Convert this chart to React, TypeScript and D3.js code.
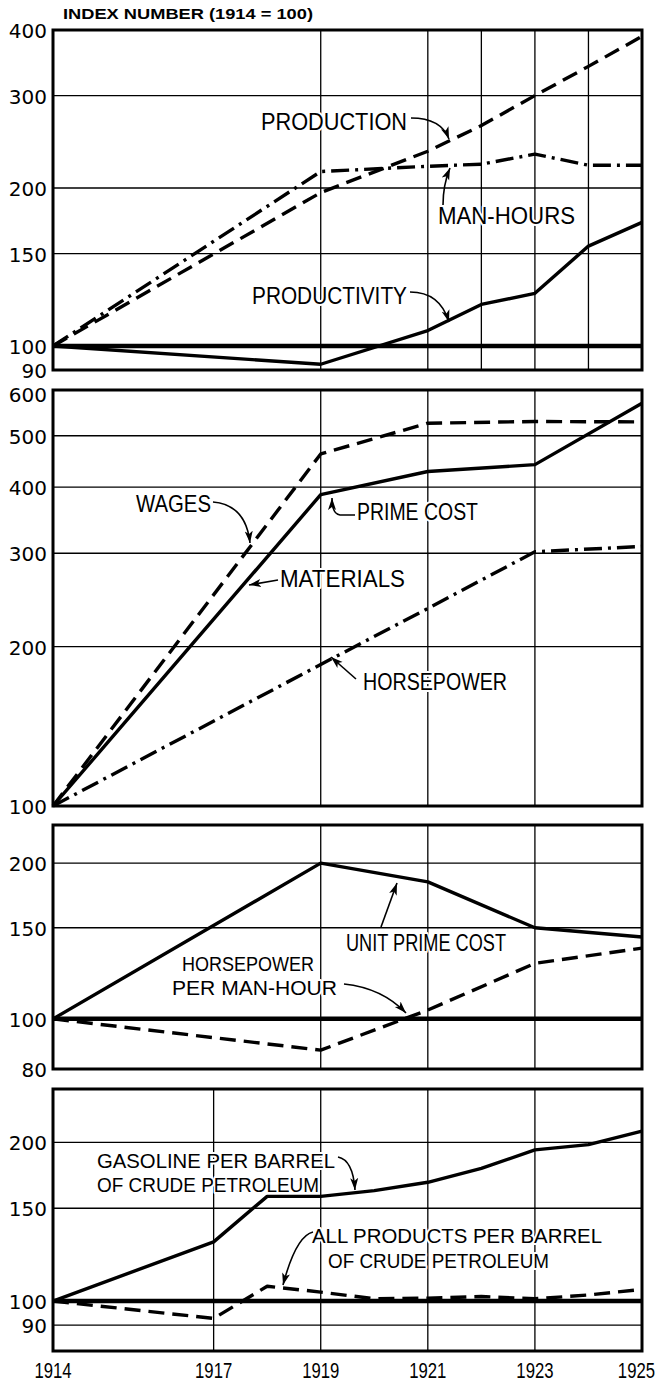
import React from 'react';
import * as d3 from 'd3';

const W = 660;
const H = 1385;
const LEFT = 53;
const RIGHT = 642;

// ---------- data ----------
const prodYears = [1914, 1919, 1921, 1922, 1923, 1924, 1925];
const production = [100, 196, 235, 263, 300, 341, 389];
const manHours = [100, 215, 220, 222, 232, 221, 221];
const productivity = [100, 92.3, 107, 120, 126, 155, 172];

const censusYears = [1914, 1919, 1921, 1923, 1925];
const wages = [100, 462, 528, 532, 531];
const primeCost = [100, 387, 428, 441, 576];
const horsepower = [100, 185, 236, 302, 309];

const unitPrimeCost = [100, 200, 184, 150, 144];
const hpPerManHour = [100, 87, 104, 128, 137];

const refYears = [1914, 1917, 1918, 1919, 1920, 1921, 1922, 1923, 1924, 1925];
const gasoline = [100, 129.5, 158, 158, 162, 168, 178.5, 193.5, 198, 210];
const allProducts = [100, 92.7, 106.7, 104, 101, 101.3, 102, 101, 102.7, 105.2];

const xTickYears = [1914, 1917, 1919, 1921, 1923, 1925];
const p1Ticks = [400, 300, 200, 150, 100, 90];
const p2Ticks = [600, 500, 400, 300, 200, 100];
const p3Ticks = [200, 150, 100, 80];
const p4Ticks = [200, 150, 100, 90];

// ---------- layout ----------
const panels = [
  { top: 30, bottom: 370, domain: [90, 400], ticks: p1Ticks, hgrid: [300, 200, 150], thick: 100, vgrid: [1919, 1921, 1922, 1923, 1924] },
  { top: 390, bottom: 806, domain: [100, 610], ticks: p2Ticks, hgrid: [500, 400, 300, 200], thick: null, vgrid: [1919, 1921, 1923] },
  { top: 825, bottom: 1069, domain: [80, 237], ticks: p3Ticks, hgrid: [200, 150], thick: 100, vgrid: [1919, 1921, 1923] },
  { top: 1089, bottom: 1351, domain: [80.4, 252.5], ticks: p4Ticks, hgrid: [200, 150, 90], thick: 100, vgrid: [1917, 1919, 1921, 1923] },
];

const x = d3.scaleLinear().domain([1914, 1925]).range([LEFT, RIGHT]);
const yScales = panels.map((p) => d3.scaleLog().domain(p.domain).range([p.bottom, p.top]));

const DASH = '16 8';
const DASHDOT = '18 6 3 6';

const series = [
  { panel: 0, years: prodYears, values: production, dash: DASH },
  { panel: 0, years: prodYears, values: manHours, dash: DASHDOT },
  { panel: 0, years: prodYears, values: productivity, dash: null },
  { panel: 1, years: censusYears, values: wages, dash: DASH },
  { panel: 1, years: censusYears, values: primeCost, dash: null },
  { panel: 1, years: censusYears, values: horsepower, dash: DASHDOT },
  { panel: 2, years: censusYears, values: unitPrimeCost, dash: null },
  { panel: 2, years: censusYears, values: hpPerManHour, dash: DASH },
  { panel: 3, years: refYears, values: gasoline, dash: null },
  { panel: 3, years: refYears, values: allProducts, dash: DASH },
];

const labels = [
  { text: 'PRODUCTION', x: 261, y: 130, len: 146, fs: 24 },
  { text: 'MAN-HOURS', x: 438, y: 224, len: 137, fs: 24 },
  { text: 'PRODUCTIVITY', x: 252, y: 304, len: 155, fs: 24 },
  { text: 'WAGES', x: 136, y: 512, len: 75, fs: 24 },
  { text: 'PRIME COST', x: 357, y: 520, len: 121, fs: 24 },
  { text: 'MATERIALS', x: 280, y: 587, len: 125, fs: 24 },
  { text: 'HORSEPOWER', x: 363, y: 690, len: 144, fs: 24 },
  { text: 'UNIT PRIME COST', x: 346, y: 951, len: 160, fs: 24 },
  { text: 'HORSEPOWER', x: 182, y: 971, len: 132, fs: 21 },
  { text: 'PER MAN-HOUR', x: 172, y: 995, len: 165, fs: 21 },
  { text: 'GASOLINE PER BARREL', x: 97, y: 1168, len: 238, fs: 21 },
  { text: 'OF CRUDE PETROLEUM', x: 97, y: 1192, len: 222, fs: 21 },
  { text: 'ALL PRODUCTS PER BARREL', x: 312, y: 1243, len: 290, fs: 21 },
  { text: 'OF CRUDE PETROLEUM', x: 328, y: 1268, len: 221, fs: 21 },
];

const arrows = [
  'M 411 118 Q 441 118 449 139',
  'M 443 205 Q 443 185 450 168',
  'M 410 292 Q 440 292 449 322',
  'M 213 502 Q 246 505 250 543',
  'M 355 515 L 340 515 Q 332 514 332 498',
  'M 278 580 L 249 585',
  'M 356 679 L 331 657',
  'M 381 927 L 397 883',
  'M 344 984 Q 382 988 406 1013',
  'M 338 1157 Q 353 1160 355 1190',
  'M 313 1232 Q 296 1236 283 1285',
];

const FONT = "'Liberation Sans', Arial, sans-serif";

export default function App() {
  return (
    <svg
      width={W}
      height={H}
      viewBox={`0 0 ${W} ${H}`}
      style={{ position: 'absolute', left: 0, top: 0, background: '#fff' }}
    >
      <defs>
        <marker
          id="ah"
          markerUnits="userSpaceOnUse"
          markerWidth="13"
          markerHeight="10"
          viewBox="0 0 13 10"
          refX="12"
          refY="5"
          orient="auto"
        >
          <path d="M0,1 L12,5 L0,9 L3,5 z" fill="#000" />
        </marker>
      </defs>
      <rect x={0} y={0} width={W} height={H} fill="#fff" />

      <text x={63} y={19} fontFamily={FONT} fontWeight="bold" fontSize={14} textLength={250} lengthAdjust="spacingAndGlyphs">
        INDEX NUMBER (1914 = 100)
      </text>

      {panels.map((p, i) => {
        const y = yScales[i];
        return (
          <g key={'p' + i}>
            {p.hgrid.map((v) => (
              <line key={'h' + v} x1={LEFT} x2={RIGHT} y1={y(v)} y2={y(v)} stroke="#000" strokeWidth={1.3} />
            ))}
            {p.vgrid.map((yr) => (
              <line key={'v' + yr} x1={x(yr)} x2={x(yr)} y1={p.top} y2={p.bottom} stroke="#000" strokeWidth={1.3} />
            ))}
            {p.thick != null && (
              <line x1={LEFT} x2={RIGHT} y1={y(p.thick)} y2={y(p.thick)} stroke="#000" strokeWidth={4.5} />
            )}
            {p.ticks.map((v) => (
              <text
                key={'t' + v}
                x={47}
                y={y(v) + 1}
                textAnchor="end"
                dominantBaseline="central"
                fontFamily="'DejaVu Sans', sans-serif"
                fontSize={20}
              >
                {v}
              </text>
            ))}
          </g>
        );
      })}

      {series.map((s, i) => {
        const y = yScales[s.panel];
        const line = d3
          .line<number>()
          .x((_, j) => x(s.years[j]))
          .y((v) => y(v));
        return (
          <path
            key={'s' + i}
            d={line(s.values) || ''}
            fill="none"
            stroke="#000"
            strokeWidth={3.4}
            strokeDasharray={s.dash || undefined}
            strokeLinejoin="round"
          />
        );
      })}

      {panels.map((p, i) => (
        <rect key={'f' + i} x={LEFT} y={p.top} width={RIGHT - LEFT} height={p.bottom - p.top} fill="none" stroke="#000" strokeWidth={3} />
      ))}

      {arrows.map((d, i) => (
        <path key={'a' + i} d={d} fill="none" stroke="#000" strokeWidth={1.6} markerEnd="url(#ah)" />
      ))}

      {labels.map((l, i) => (
        <text
          key={'l' + i}
          x={l.x}
          y={l.y}
          textLength={l.len}
          lengthAdjust="spacingAndGlyphs"
          fontFamily={FONT}
          fontSize={l.fs}
          stroke="#fff"
          strokeWidth={4}
          strokeLinejoin="round"
          paintOrder="stroke"
          fill="#000"
        >
          {l.text}
        </text>
      ))}

      {xTickYears.map((yr) => {
        const last = yr === 1925;
        const cx = last ? 655 : x(yr);
        return (
          <text
            key={'x' + yr}
            transform={`translate(${cx},1378) scale(0.76,1)`}
            textAnchor={last ? 'end' : 'middle'}
            fontFamily={FONT}
            fontSize={22}
          >
            {yr}
          </text>
        );
      })}
    </svg>
  );
}
